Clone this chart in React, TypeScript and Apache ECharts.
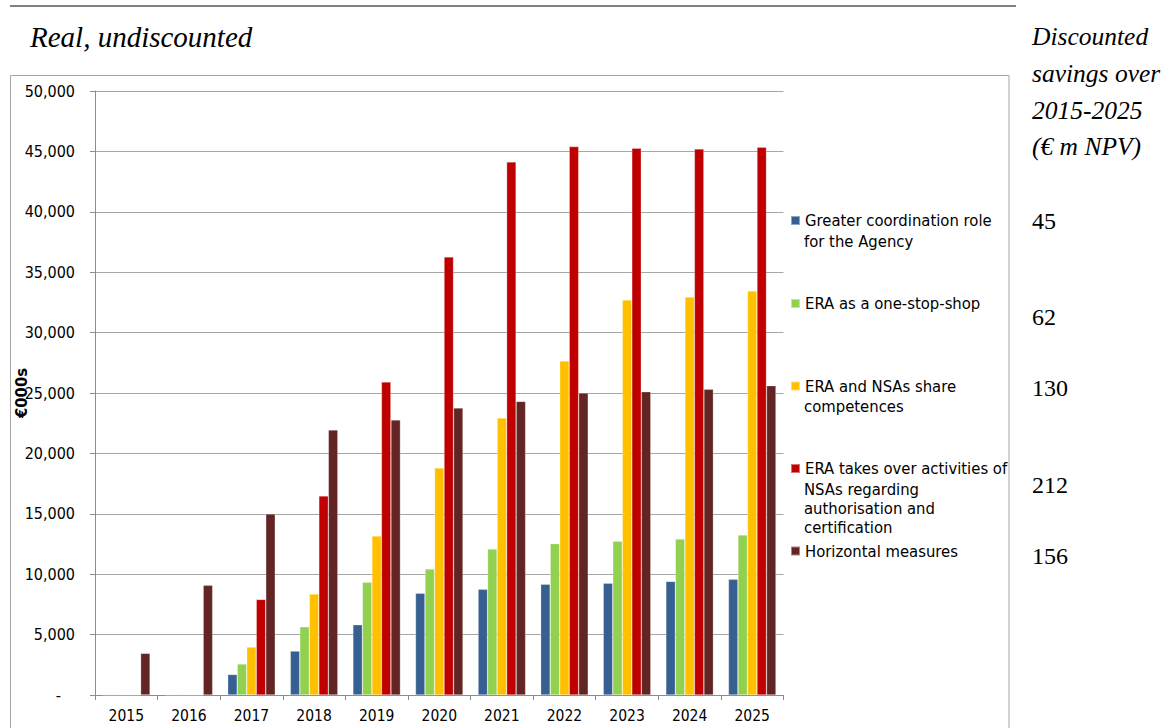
import React, { useEffect, useRef } from "react";
import * as echarts from "echarts";

const years = ["2015", "2016", "2017", "2018", "2019", "2020", "2021", "2022", "2023", "2024", "2025"];
const seriesNames = [
  "Greater coordination role for the Agency",
  "ERA as a one-stop-shop",
  "ERA and NSAs share competences",
  "ERA takes over activities of NSAs regarding authorisation and certification",
  "Horizontal measures",
];
const legendLines = [
  ["Greater coordination role", "for the Agency"],
  ["ERA as a one-stop-shop"],
  ["ERA and NSAs share", "competences"],
  ["ERA takes over activities of", "NSAs regarding", "authorisation and", "certification"],
  ["Horizontal measures"],
];
const coordination = [0, 0, 1700, 3640, 5820, 8420, 8750, 9170, 9250, 9410, 9580];
const oneStopShop = [0, 0, 2570, 5650, 9330, 10430, 12090, 12530, 12730, 12920, 13250];
const shareCompetences = [0, 0, 3970, 8360, 13170, 18800, 22930, 27650, 32700, 32950, 33450];
const takesOver = [0, 0, 7920, 16480, 25920, 36270, 44130, 45400, 45270, 45210, 45350];
const horizontal = [3450, 9080, 14990, 21940, 22770, 23760, 24310, 25000, 25110, 25310, 25610];
const npvValues = ["45", "62", "130", "212", "156"];
const headerLines = ["Discounted", "savings over", "2015-2025", "(€ m NPV)"];

const colors = ["#376092", "#92D050", "#FFC000", "#C00000", "#632523"];
const FONT = "'DejaVu Sans Condensed', 'DejaVu Sans', sans-serif";
const SERIF = "'Liberation Serif', 'Times New Roman', serif";

export default function App() {
  const ref = useRef<HTMLDivElement>(null);
  useEffect(() => {
    if (!ref.current) return;
    const chart = echarts.init(ref.current, null, { renderer: "svg" });
    const dataSets = [coordination, oneStopShop, shareCompetences, takesOver, horizontal];
    const L = 19.2;
    const LEG_FS = 16.5;
    const iconCenters = [222, 305, 387.5, 470, 552.5];
    const npvY = [220.5, 317, 388, 485, 556];
    const headerY = [36, 73, 110, 146.5];

    const legends = seriesNames.map((name, i) => ({
      orient: "vertical" as const,
      left: 790,
      top: iconCenters[i] - 10,
      itemWidth: 9,
      itemHeight: 9,
      padding: 0,
      icon: "rect",
      data: [name],
      selectedMode: false,
      formatter: () => legendLines[i][0],
      textStyle: { fontFamily: FONT, fontSize: LEG_FS, color: "#000" },
    }));

    const contLines: any[] = [];
    legendLines.forEach((lines, i) => {
      lines.slice(1).forEach((t, k) => {
        contLines.push({
          type: "text",
          x: 804,
          y: iconCenters[i] + (k + 1) * L,
          style: {
            text: t,
            font: `${LEG_FS}px ${FONT}`,
            fill: "#000",
            verticalAlign: "middle",
          },
        });
      });
    });

    const graphics: any[] = [
      {
        type: "rect",
        id: "box",
        shape: { x: 10.5, y: 75.5, width: 998.5, height: 700 },
        style: { stroke: "#A6A6A6", fill: "none", lineWidth: 1 },
        silent: true,
        z: -10,
      },
      {
        type: "rect",
        id: "topRule",
        left: 10,
        top: 5,
        shape: { width: 1006, height: 2 },
        style: { fill: "#808080" },
        silent: true,
        z: 10,
      },
      {
        type: "text",
        x: 30,
        y: 37,
        style: {
          text: "Real, undiscounted",
          font: `italic 29px ${SERIF}`,
          fill: "#000",
          verticalAlign: "middle",
        },
      },
      ...headerLines.map((t, i) => ({
        type: "text",
        x: 1032,
        y: headerY[i],
        style: {
          text: t,
          font: `italic 25.5px ${SERIF}`,
          fill: "#000",
          verticalAlign: "middle",
        },
      })),
      ...npvValues.map((t, i) => ({
        type: "text",
        x: 1032,
        y: npvY[i],
        style: {
          text: t,
          font: `24px ${SERIF}`,
          fill: "#000",
          verticalAlign: "middle",
        },
      })),
      ...contLines,
    ];

    chart.setOption({
      animation: false,
      color: colors,
      grid: { left: 95, right: 388.5, top: 91, bottom: 33, containLabel: false, outerBoundsMode: "none" },
      legend: legends,
      graphic: { elements: graphics },
      xAxis: {
        type: "category",
        data: years,
        axisLine: { show: true, lineStyle: { color: "#8C8C8C", width: 1 } },
        axisTick: { show: true, length: 5, alignWithLabel: false, lineStyle: { color: "#8C8C8C" } },
        axisLabel: { fontFamily: FONT, fontSize: 15.5, color: "#000", margin: 13 },
      },
      yAxis: {
        type: "value",
        min: 0,
        max: 50000,
        interval: 5000,
        name: "€000s",
        nameLocation: "middle",
        nameGap: 65,
        nameRotate: 90,
        nameMoveOverlap: false,
        nameTextStyle: { fontFamily: FONT, fontSize: 16.5, fontWeight: "bold", color: "#000" },
        axisLine: { show: true, lineStyle: { color: "#8C8C8C", width: 1 } },
        axisTick: { show: true, length: 5, inside: false, lineStyle: { color: "#8C8C8C" } },
        splitLine: { show: true, lineStyle: { color: "#A6A6A6", width: 1 } },
        axisLabel: {
          fontFamily: FONT,
          fontSize: 16,
          color: "#000",
          margin: 20,
          formatter: (v: number) => (v === 0 ? "{d|-}" : v.toLocaleString("en-US")),
          rich: { d: { fontFamily: FONT, fontSize: 16, color: "#000", padding: [0, 14, 0, 0] } },
        },
      },
      series: seriesNames.map((name, i) => ({
        name,
        type: "bar",
        data: dataSets[i],
        barGap: "0%",
        barCategoryGap: "24%",
        itemStyle: { color: colors[i], borderColor: "rgba(255,255,255,0.45)", borderWidth: 0.6 },
      })),
    });
    return () => chart.dispose();
  }, []);
  return (
    <div
      ref={ref}
      style={{ position: "absolute", left: 0, top: 0, width: 1172, height: 728 }}
    />
  );
}
